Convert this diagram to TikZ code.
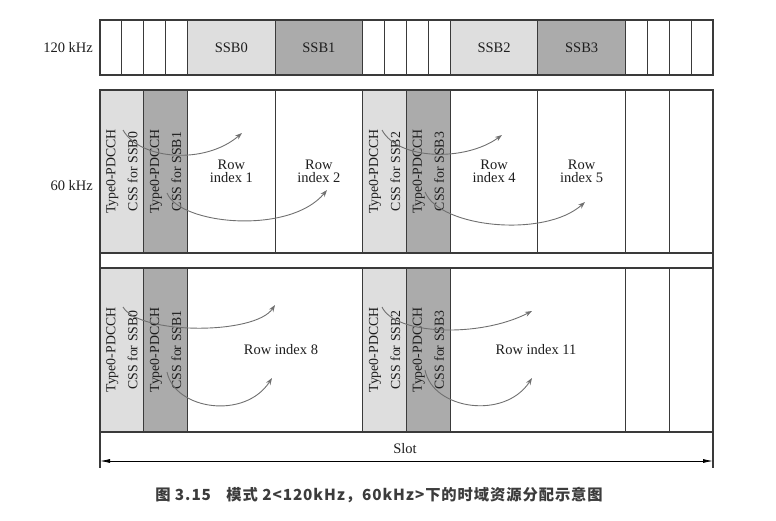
\documentclass[tikz,border=0pt]{standalone}
\usepackage{fontspec}
\setmainfont{Liberation Serif}
\newfontfamily\cjkfont{Noto Sans CJK SC}[LetterSpace=6]
\usetikzlibrary{arrows.meta}
\definecolor{linec}{HTML}{3A3A3A}
\definecolor{lightg}{HTML}{DEDEDE}
\definecolor{darkg}{HTML}{ABABAB}
\definecolor{arrc}{HTML}{707070}
\definecolor{capc}{HTML}{3C3C3C}
\definecolor{txtc}{HTML}{1E1E1E}
\begin{document}
\begin{tikzpicture}[x=1pt,y=-1pt,
  box/.style={draw=linec, line width=1.1pt, inner sep=0pt, text=txtc,
    font=\fontsize{14.5}{14.5}\selectfont, align=center},
  toprow/.style={box, minimum height=55},
  rowa/.style={box, minimum height=163},
  rowb/.style={box, minimum height=164},
  lt/.style={fill=lightg}, dk/.style={fill=darkg},
  vtext/.style={rotate=90, align=center, inner sep=0pt, text=txtc,
    font=\fontsize{13.8}{22}\selectfont},
  curv/.style={draw=arrc, line width=0.9pt, -{Stealth[length=7pt,width=5pt]}},
  frame/.style={draw=linec, line width=1.1pt},
  slotarr/.style={draw=black, line width=0.8pt, {Latex[length=10pt,width=4pt]}-{Latex[length=10pt,width=4pt]}},
  side/.style={anchor=east, inner sep=0pt, text=txtc, font=\fontsize{14.5}{14.5}\selectfont}
]
\def\u{21.8929}
\useasboundingbox (0,0) rectangle (776,520);

% ---------- 120 kHz row ----------
\foreach \k in {0,1,2,3,12,13,14,15,24,25,26,27}
  \node[toprow, minimum width=\u] (t\k) at ({100+(\k+0.5)*\u},47.5) {};
\node[toprow, lt, minimum width={4*\u}] (ssb0) at ({100+6*\u},47.5) {SSB0};
\node[toprow, dk, minimum width={4*\u}] (ssb1) at ({100+10*\u},47.5) {SSB1};
\node[toprow, lt, minimum width={4*\u}] (ssb2) at ({100+18*\u},47.5) {SSB2};
\node[toprow, dk, minimum width={4*\u}] (ssb3) at ({100+22*\u},47.5) {SSB3};
\node[side] (l120) at (93,47.5) {120 kHz};

% ---------- 60 kHz, first row ----------
\node[rowa, lt, minimum width={2*\u}] (a0) at ({100+1*\u},171.5) {};
\node[rowa, dk, minimum width={2*\u}] (a1) at ({100+3*\u},171.5) {};
\node[rowa, minimum width={4*\u}] (ri1) at ({100+6*\u},171.5) {Row\\[-1pt]index 1};
\node[rowa, minimum width={4*\u}] (ri2) at ({100+10*\u},171.5) {Row\\[-1pt]index 2};
\node[rowa, lt, minimum width={2*\u}] (a2) at ({100+13*\u},171.5) {};
\node[rowa, dk, minimum width={2*\u}] (a3) at ({100+15*\u},171.5) {};
\node[rowa, minimum width={4*\u}] (ri4) at ({100+18*\u},171.5) {Row\\[-1pt]index 4};
\node[rowa, minimum width={4*\u}] (ri5) at ({100+22*\u},171.5) {Row\\[-1pt]index 5};
\node[rowa, minimum width={2*\u}] (aw1) at ({100+25*\u},171.5) {};
\node[rowa, minimum width={2*\u}] (aw2) at ({100+27*\u},171.5) {};
\node[vtext] (va0) at (a0.center) {Type0-PDCCH\\CSS for SSB0};
\node[vtext] (va1) at (a1.center) {Type0-PDCCH\\CSS for SSB1};
\node[vtext] (va2) at (a2.center) {Type0-PDCCH\\CSS for SSB2};
\node[vtext] (va3) at (a3.center) {Type0-PDCCH\\CSS for SSB3};
\node[side] (l60) at (93,186) {60 kHz};

% ---------- 60 kHz, second row ----------
\node[rowb, lt, minimum width={2*\u}] (b0) at ({100+1*\u},350) {};
\node[rowb, dk, minimum width={2*\u}] (b1) at ({100+3*\u},350) {};
\node[rowb, minimum width={8*\u}] (ri8) at ({100+8*\u},350) {};
\node[rowb, lt, minimum width={2*\u}] (b2) at ({100+13*\u},350) {};
\node[rowb, dk, minimum width={2*\u}] (b3) at ({100+15*\u},350) {};
\node[rowb, minimum width={8*\u}] (ri11) at ({100+20*\u},350) {};
\node[rowb, minimum width={2*\u}] (bw1) at ({100+25*\u},350) {};
\node[rowb, minimum width={2*\u}] (bw2) at ({100+27*\u},350) {};
\node[box, draw=none] (tx8) at (281,350) {Row index 8};
\node[box, draw=none] (tx11) at (536,350) {Row index 11};
\node[vtext] (vb0) at (b0.center) {Type0-PDCCH\\CSS for SSB0};
\node[vtext] (vb1) at (b1.center) {Type0-PDCCH\\CSS for SSB1};
\node[vtext] (vb2) at (b2.center) {Type0-PDCCH\\CSS for SSB2};
\node[vtext] (vb3) at (b3.center) {Type0-PDCCH\\CSS for SSB3};

% ---------- outer side lines ----------
\coordinate (fl1) at (100,253); \coordinate (fl2) at (100,268);
\coordinate (fr1) at (713,253); \coordinate (fr2) at (713,268);
\coordinate (fl3) at (100,432); \coordinate (fl4) at (100,468);
\coordinate (fr3) at (713,432); \coordinate (fr4) at (713,468);
\draw[frame] (fl1) -- (fl2);
\draw[frame] (fr1) -- (fr2);
\draw[frame] (fl3) -- (fl4);
\draw[frame] (fr3) -- (fr4);

% ---------- slot ----------
\coordinate (sl) at (100,461);
\coordinate (sr) at (713,461);
\draw[slotarr] (sl) -- (sr);
\node[box, draw=none] (slot) at (405,449) {Slot};

% ---------- curved arrows ----------
\coordinate (s1) at (123,130); \coordinate (e1) at (242,133);
\draw[curv] (s1) .. controls (140,160) and (205,165) .. (e1);
\coordinate (s2) at (167,193); \coordinate (e2) at (327,190);
\draw[curv] (s2) .. controls (180,225) and (290,235) .. (e2);
\coordinate (s3) at (382,130); \coordinate (e3) at (502,135);
\draw[curv] (s3) .. controls (398,160) and (465,162) .. (e3);
\coordinate (s4) at (425,192); \coordinate (e4) at (585,202);
\draw[curv] (s4) .. controls (440,228) and (545,238) .. (e4);
\coordinate (s5) at (123,307); \coordinate (e5) at (275,305);
\draw[curv] (s5) .. controls (140,335) and (255,335) .. (e5);
\coordinate (s6) at (167,372); \coordinate (e6) at (272,378);
\draw[curv] (s6) .. controls (175,410) and (245,420) .. (e6);
\coordinate (s7) at (382,307); \coordinate (e7) at (532,311);
\draw[curv] (s7) .. controls (395,335) and (480,338) .. (e7);
\coordinate (s8) at (425,370); \coordinate (e8) at (532,378);
\draw[curv] (s8) .. controls (433,410) and (505,420) .. (e8);

% ---------- caption ----------
\node[inner sep=0pt, text=capc, font=\cjkfont\bfseries\fontsize{15.3}{15.3}\selectfont] (cap) at (379,495)
  {图 3.15\hspace{1em}模式 2<120kHz，60kHz>下的时域资源分配示意图};
\end{tikzpicture}
\end{document}
